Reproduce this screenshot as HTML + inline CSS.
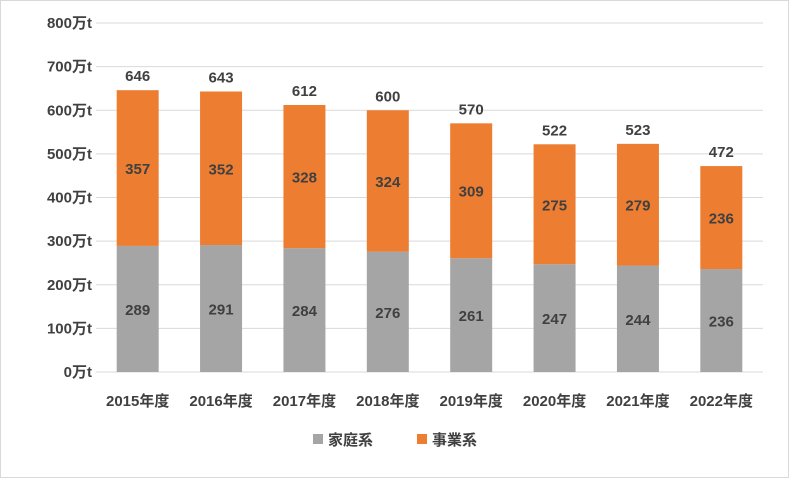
<!DOCTYPE html>
<html><head><meta charset="utf-8">
<style>
html,body{margin:0;padding:0;background:#fff;}
svg{display:block;font-family:"Liberation Sans","Noto Sans CJK JP",sans-serif;}
</style></head>
<body>
<svg id="chart" width="789" height="478" viewBox="0 0 789 478" xmlns="http://www.w3.org/2000/svg">
<rect x="0.5" y="0.5" width="788" height="477" fill="#fff" stroke="#d9d9d9"/>
<g id="grid"></g><g id="bars"></g><g id="labels"></g>
<g>
<g><rect x="313" y="434" width="10" height="10" fill="#a5a5a5"/><text x="328" y="445" font-size="15" font-weight="bold" fill="#404040">家庭系</text></g>
<g><rect x="417" y="434" width="10" height="10" fill="#ed7d31"/><text x="432" y="445" font-size="15" font-weight="bold" fill="#404040">事業系</text></g>
</g>
</svg>
<script>
const categories=["2015年度","2016年度","2017年度","2018年度","2019年度","2020年度","2021年度","2022年度"];
const household=[289,291,284,276,261,247,244,236];
const business=[357,352,328,324,309,275,279,236];
const totals=[646,643,612,600,570,522,523,472];
const yTicks=[0,100,200,300,400,500,600,700,800];
const NS="http://www.w3.org/2000/svg";
const plotLeft=96,plotRight=763,plotTop=23,plotBottom=372,yMaxVal=800;
function yPos(v){return plotBottom-(v/yMaxVal)*(plotBottom-plotTop);}
const step=(plotRight-plotLeft)/categories.length;
function xc(i){return plotLeft+step*(i+0.5);}
const bw=42;
function mk(tag,attrs,parent,txt){const e=document.createElementNS(NS,tag);for(const k in attrs)e.setAttribute(k,attrs[k]);if(txt!==undefined)e.textContent=txt;parent.appendChild(e);return e;}
const gridG=document.getElementById('grid'),barsG=document.getElementById('bars'),labelsG=document.getElementById('labels');
yTicks.forEach(t=>{
 const l=mk('line',{x1:plotLeft,x2:plotRight,y1:yPos(t),y2:yPos(t),stroke:'#d9d9d9','stroke-width':1},gridG);
 
 
 const tx=mk('text',{x:92,y:yPos(t)+5,'text-anchor':'end','font-size':15,'font-weight':'bold',fill:'#404040'},labelsG,t+'万t');
 
 
});
categories.forEach((c,i)=>{
 const x=xc(i)-bw/2;
 const h=household[i],b=business[i];
 const r1=mk('rect',{x:x,y:yPos(h),width:bw,height:yPos(0)-yPos(h),fill:'#a5a5a5'},barsG);
 
 
 const r2=mk('rect',{x:x,y:yPos(h+b),width:bw,height:yPos(h)-yPos(h+b),fill:'#ed7d31'},barsG);
 
 
 const t1=mk('text',{x:xc(i),y:(yPos(0)+yPos(h))/2+6,'text-anchor':'middle','font-size':15,'font-weight':'bold',fill:'#404040'},labelsG,h);
 
 
 const t2=mk('text',{x:xc(i),y:(yPos(h)+yPos(h+b))/2+6,'text-anchor':'middle','font-size':15,'font-weight':'bold',fill:'#404040'},labelsG,b);
 
 
 const t3=mk('text',{x:xc(i),y:yPos(h+b)-9,'text-anchor':'middle','font-size':15,'font-weight':'bold',fill:'#404040'},labelsG,totals[i]);
 
 
 const t4=mk('text',{x:xc(i),y:406,'text-anchor':'middle','font-size':15,'font-weight':'bold',fill:'#404040'},labelsG,c);
 
 
});
</script>
</body></html>
